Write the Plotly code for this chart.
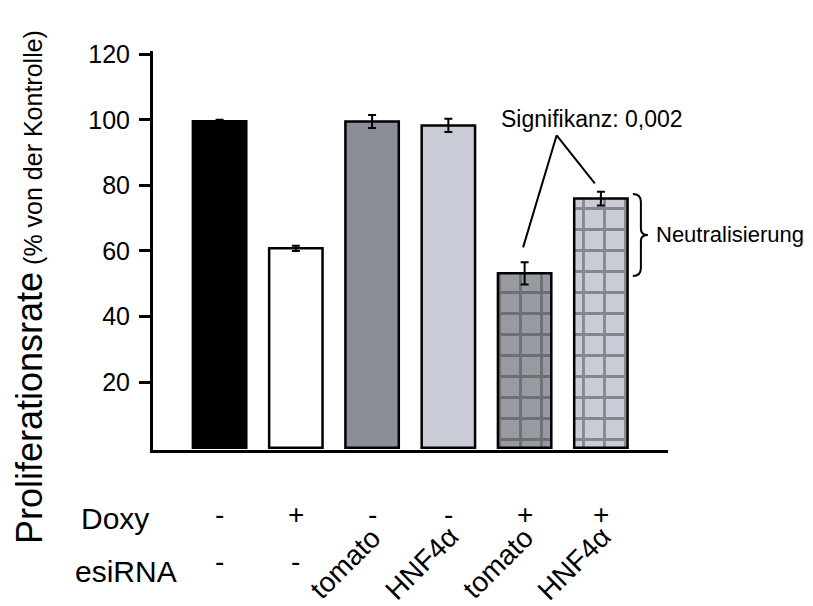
import plotly.graph_objects as go

# ---- data ----
doxy = ["-", "+", "-", "-", "+", "+"]
esirna = ["-", "-", "tomato", "HNF4α", "tomato", "HNF4α"]
values = [99.6, 60.8, 99.5, 98.3, 53.2, 76.0]
errors = [0.4, 0.8, 2.0, 2.0, 3.4, 2.1]
fill_colors = ["#000000", "#ffffff", "#8b8e97", "#c9cbd7", "#989aa1", "#c9cbd7"]
patterns = ["", "", "", "", "+", "+"]
y_ticks = [20, 40, 60, 80, 100, 120]
y_title = "<span style='font-size:36px'>Proliferationsrate</span> (% von der Kontrolle)"
signif_text = "Signifikanz: 0,002"
neutral_text = "Neutralisierung"

FONT = "Liberation Sans, Arial, sans-serif"
idx = list(range(len(values)))

fig = go.Figure()
fig.add_trace(go.Bar(
    x=idx, y=values, width=0.7,
    marker=dict(
        color=fill_colors,
        line=dict(color="black", width=2.5),
        pattern=dict(shape=patterns, fgcolor="white", size=21, solidity=0.25,
                     fillmode="overlay"),
    ),
    error_y=dict(type="data", array=errors, color="black", thickness=2, width=4),
    showlegend=False,
))

annotations = []
# y-axis title
annotations.append(dict(xref="paper", yref="paper", x=0, y=(442 - 279) / 399, xshift=-124,
                        xanchor="center", yanchor="middle",
                        text=y_title, textangle=-90, showarrow=False,
                        font=dict(size=25, color="black", family=FONT)))
# row labels
annotations.append(dict(xref="paper", yref="paper", x=0, y=0, xshift=-38, yshift=-68,
                        text="Doxy", showarrow=False, xanchor="center", yanchor="middle",
                        font=dict(size=30, color="black", family=FONT)))
annotations.append(dict(xref="paper", yref="paper", x=0, y=0, xshift=-27, yshift=-121,
                        text="esiRNA", showarrow=False, xanchor="center", yanchor="middle",
                        font=dict(size=30, color="black", family=FONT)))
for i, d in enumerate(doxy):
    annotations.append(dict(xref="x", yref="paper", x=i, y=0, yshift=-64,
                            text=d, showarrow=False, xanchor="center", yanchor="middle",
                            font=dict(size=28, color="black", family=FONT)))
for i, e in enumerate(esirna):
    if e == "-":
        annotations.append(dict(xref="x", yref="paper", x=i, y=0, yshift=-111,
                                text=e, showarrow=False, xanchor="center", yanchor="middle",
                                font=dict(size=28, color="black", family=FONT)))
    else:
        annotations.append(dict(xref="x", yref="paper", x=i, y=0, xshift=-27, yshift=-113,
                                text=e, showarrow=False, xanchor="center", yanchor="middle",
                                textangle=-45,
                                font=dict(size=28, color="black", family=FONT)))

# significance annotation
apex = (4.42, 95.3)
left_end = (3.98, values[4] + errors[4] + 4.5)
right_end = (4.92, values[5] + errors[5] + 2.5)
shapes = [
    dict(type="line", xref="x", yref="y", x0=apex[0], y0=apex[1], x1=left_end[0], y1=left_end[1],
         line=dict(color="black", width=2)),
    dict(type="line", xref="x", yref="y", x0=apex[0], y0=apex[1], x1=right_end[0], y1=right_end[1],
         line=dict(color="black", width=2)),
]
annotations.append(dict(xref="x", yref="y", x=4.88, y=100.2, text=signif_text, showarrow=False,
                        xanchor="center", yanchor="middle",
                        font=dict(size=23, color="black", family=FONT)))

# brace + Neutralisierung
mid = (values[4] + values[5]) / 2 + 0.3
shapes.append(dict(type="path", xref="x", yref="y", xsizemode="pixel", ysizemode="pixel",
                   xanchor=5, yanchor=mid,
                   path="M 32,-41 Q 40,-41 40,-33 L 40,-6 Q 40,0 47,0 Q 40,0 40,6 L 40,33 Q 40,41 32,41",
                   line=dict(color="black", width=2)))
annotations.append(dict(xref="x", yref="y", x=5, y=mid, xshift=53, text=neutral_text,
                        showarrow=False, xanchor="left", yanchor="middle",
                        font=dict(size=22, color="black", family=FONT)))

# page body has an 8px margin: figure is 8px smaller and shifted accordingly
fig.update_layout(
    width=805, height=598,
    margin=dict(l=145, r=145, t=43, b=156, autoexpand=False),
    paper_bgcolor="white", plot_bgcolor="white",
    font=dict(family=FONT, color="black"),
    xaxis=dict(range=[-0.873, 5.88], showline=True, linewidth=3, linecolor="black",
               showticklabels=False, ticks="", showgrid=False, zeroline=False,
               automargin=False),
    yaxis=dict(range=[-0.7, 121], showline=True, linewidth=3, linecolor="black",
               ticks="outside", ticklen=11, tickwidth=3, tickcolor="black",
               tickvals=y_ticks, ticklabelstandoff=4,
               tickfont=dict(size=25, color="black", family=FONT),
               showgrid=False, zeroline=False, automargin=False),
    annotations=annotations,
    shapes=shapes,
    bargap=0.3,
)

fig.write_html("out.html")
